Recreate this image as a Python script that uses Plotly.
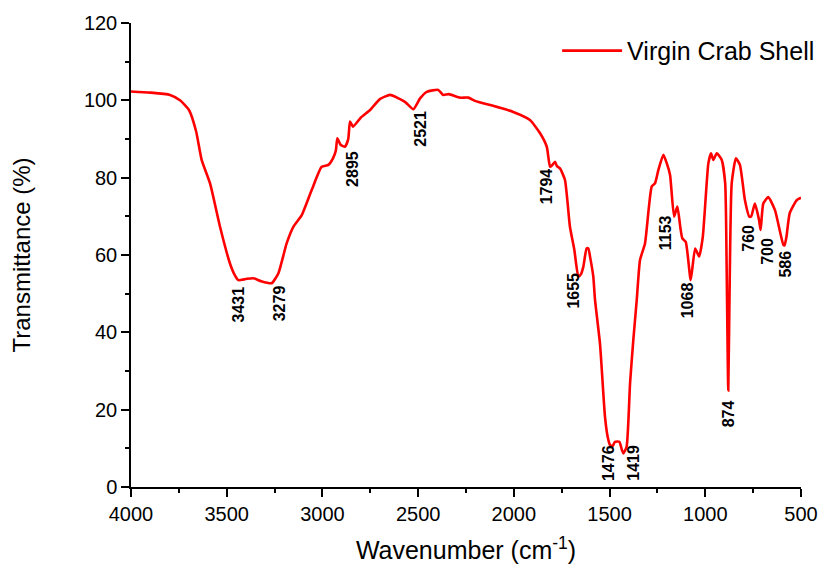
import plotly.graph_objects as go

wavenumber = [4000, 3900, 3796, 3744, 3697, 3660, 3631, 3587, 3535, 3483, 3460, 3439, 3400, 3361,
              3320, 3265, 3230, 3187, 3152, 3108, 3056, 3004, 2969, 2945, 2930, 2922, 2905, 2882,
              2865, 2856, 2840, 2800, 2751, 2700, 2647, 2569, 2525, 2490, 2455, 2395, 2369, 2340,
              2281, 2238, 2200, 2125, 2003, 1916, 1863, 1828, 1811, 1800, 1785, 1775, 1759, 1733,
              1707, 1684, 1663, 1650, 1637, 1620, 1611, 1600, 1585, 1576, 1550, 1524, 1510, 1498,
              1485, 1472, 1449, 1435, 1428, 1411, 1393, 1376, 1358, 1341, 1315, 1280, 1263, 1245,
              1219, 1201, 1184, 1163, 1146, 1130, 1120, 1102, 1076, 1053, 1032, 1013, 984, 970,
              958, 940, 914, 896, 888, 880, 872, 862, 840, 819, 793, 770, 760, 741, 719, 711, 697,
              671, 636, 592, 586, 576, 559, 522, 500]
transmittance = [102.3, 102.0, 101.4, 100.0, 97.5, 92.0, 84.6, 78.5, 67.3, 57.8, 55.0, 53.5, 53.8, 54.0,
                 53.2, 52.7, 55.3, 63.0, 67.3, 70.3, 76.8, 82.8, 83.3, 85.0, 87.0, 90.2, 88.5, 88.0,
                 90.0, 94.5, 93.2, 95.5, 97.5, 100.3, 101.4, 99.6, 97.7, 100.5, 102.2, 102.7, 101.4, 101.6,
                 100.7, 100.7, 99.8, 98.8, 97.0, 94.9, 91.5, 88.0, 82.8, 83.2, 84.1, 83.0, 82.4, 79.4,
                 67.3, 61.3, 54.4, 55.0, 57.0, 61.7, 61.7, 59.0, 54.4, 48.4, 37.0, 18.2, 13.0, 10.9,
                 10.5, 11.7, 11.7, 9.5, 8.7, 10.4, 26.8, 38.0, 48.4, 58.7, 63.0, 77.7, 78.5, 82.0,
                 85.9, 83.7, 80.7, 69.9, 72.5, 67.0, 64.3, 63.4, 53.5, 61.7, 59.6, 64.7, 83.7, 86.3,
                 84.6, 86.3, 84.6, 78.5, 55.0, 25.0, 55.0, 78.5, 85.0, 83.3, 74.2, 69.9, 70.0, 73.3, 69.0, 66.5, 73.3,
                 75.0, 71.6, 62.6, 62.5, 64.7, 70.8, 74.2, 74.8]

peak_labels = ["3431", "3279", "2895", "2521", "1794", "1655", "1476", "1419", "1153", "1068",
               "874", "760", "700", "586"]
peak_label_x = [3436, 3227, 2847, 2486, 1828, 1689, 1506, 1372, 1207, 1092, 874, 775, 679, 580]
peak_label_y = [47.2, 47.5, 82.2, 92.6, 77.7, 50.9, 6.3, 6.3, 65.8, 48.2, 18.9, 64.3, 61.0, 57.7]

x_ticks = [4000, 3500, 3000, 2500, 2000, 1500, 1000, 500]
y_ticks = [0, 20, 40, 60, 80, 100, 120]

FONT = "Liberation Sans, Arial"

fig = go.Figure()
fig.add_trace(go.Scatter(x=wavenumber, y=transmittance, mode="lines",
                         name="Virgin Crab Shell",
                         line=dict(color="#ff0000", width=2.6, shape="spline", smoothing=0.5)))

for t, xv, yv in zip(peak_labels, peak_label_x, peak_label_y):
    fig.add_annotation(x=xv, y=yv, text="<b>" + t + "</b>", textangle=-90, showarrow=False,
                       xanchor="center", yanchor="middle",
                       font=dict(family=FONT, size=16, color="black"))

axis_common = dict(showline=True, linecolor="black", linewidth=1.5, ticks="outside",
                   tickcolor="black", tickwidth=1.5, ticklen=8, showgrid=False, zeroline=False,
                   mirror=False, automargin=False,
                   tickfont=dict(family=FONT, size=20, color="black"))

fig.update_xaxes(range=[4000, 500], tickvals=x_ticks, ticktext=[str(v) for v in x_ticks],
                 minor=dict(ticks="outside", tickvals=[3750, 3250, 2750, 2250, 1750, 1250, 750],
                            ticklen=4, tickcolor="black", tickwidth=1.5),
                 title=dict(text="Wavenumber (cm<sup>-1</sup>)", standoff=18,
                            font=dict(family=FONT, size=25, color="black")),
                 **axis_common)
fig.update_yaxes(range=[0, 120], tickvals=y_ticks, ticktext=[str(v) for v in y_ticks],
                 minor=dict(ticks="outside", tickvals=[10, 30, 50, 70, 90, 110],
                            ticklen=4, tickcolor="black", tickwidth=1.5),
                 title=dict(text="Transmittance (%)", standoff=46,
                            font=dict(family=FONT, size=24, color="black")),
                 **axis_common)

fig.update_layout(width=831, height=559, plot_bgcolor="white", paper_bgcolor="white",
                  margin=dict(l=123, r=38, t=15, b=80, autoexpand=False),
                  showlegend=True,
                  legend=dict(x=0.636, y=0.94, xanchor="left", yanchor="middle",
                              bgcolor="rgba(0,0,0,0)", itemwidth=60,
                              font=dict(family=FONT, size=25, color="black")))

fig.write_html("out.html")
